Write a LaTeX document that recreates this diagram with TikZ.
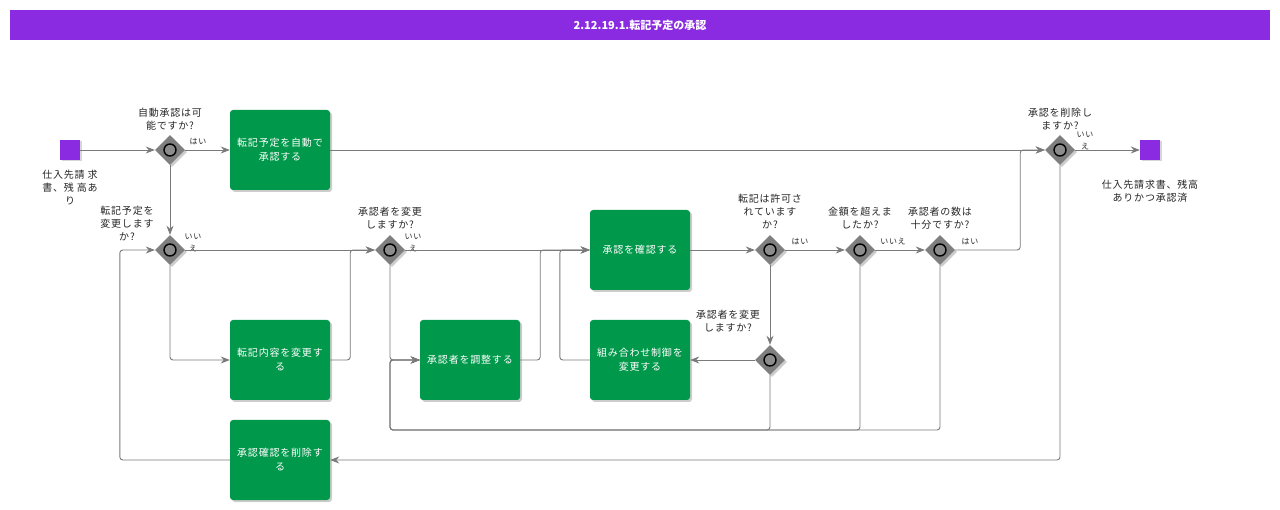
\documentclass[tikz,border=0pt]{standalone}
\usepackage{fontspec}
\setmainfont{Noto Sans CJK JP}[LetterSpace=8]
\newfontfamily\titlefont{Noto Sans CJK JP}
\usepackage{xcolor}
\usetikzlibrary{shapes.geometric,shadows,arrows.meta}
\definecolor{evpurple}{HTML}{8A2BE2}
\definecolor{taskgreen}{HTML}{00984A}
\definecolor{gategray}{HTML}{7F7F7F}
\definecolor{linegray}{HTML}{7A7A7A}
\tikzset{
  task/.style={fill=taskgreen, rounded corners=3pt, minimum width=100pt, minimum height=80pt,
    text=white, font=\fontsize{10}{14}\selectfont, align=center, inner sep=2pt,
    drop shadow={shadow xshift=2pt, shadow yshift=-2pt, fill=black!40, opacity=.5}},
  gate/.style={diamond, fill=gategray, minimum size=30pt, inner sep=0pt,
    drop shadow={shadow xshift=2pt, shadow yshift=-2pt, fill=black!40, opacity=.5},
    path picture={\draw[black, line width=1.4pt, fill=gray!90] (path picture bounding box.center) circle (6pt);}},
  event/.style={fill=evpurple, minimum size=20pt, inner sep=0pt,
    drop shadow={shadow xshift=1.5pt, shadow yshift=-1.5pt, fill=black!40, opacity=.4}},
  lbl/.style={font=\fontsize{10}{13}\selectfont, align=center, inner sep=0pt, text=black!85},
  ans/.style={font=\fontsize{8}{12}\selectfont, align=center, inner sep=0pt, text=black!85},
  flow/.style={draw=linegray, line width=0.9pt, rounded corners=3pt, -{Stealth[length=9pt,width=7pt]}}
}
\begin{document}
\begin{tikzpicture}[x=1pt, y=-1pt]
  \useasboundingbox (0,0) rectangle (1280,510);
  % title
  \node[fill=evpurple, minimum width=1260pt, minimum height=30pt, inner sep=0pt, text=white,
    font=\titlefont\fontsize{11}{13}\selectfont\bfseries] (title) at (640,25) {2.12.19.1.転記予定の承認};

  % start and end
  \node[event] (start) at (70,150) {};
  \node[lbl] (startlbl) at (70,188) {仕入先請 求\\書、残 高あ\\り};
  \node[event] (finish) at (1150,150) {};
  \node[lbl] (finishlbl) at (1150,191) {仕入先請求書、残高\\ありかつ承認済};

  % gateways
  \node[gate] (gauto) at (170,150) {};
  \node[lbl] (gautolbl) at (170,119) {自動承認は可\\能ですか?};
  \node[gate] (gchange) at (170,250) {};
  \node[lbl] (gchangelbl) at (127,223) {転記予定を\\変更します\\か?};
  \node[gate] (gappr) at (390,250) {};
  \node[lbl] (gapprlbl) at (390,218) {承認者を変更\\しますか?};
  \node[gate] (gperm) at (770,250) {};
  \node[lbl] (gpermlbl) at (770,211) {転記は許可さ\\れています\\か?};
  \node[gate] (gamount) at (860,250) {};
  \node[lbl] (gamountlbl) at (860,218) {金額を超えま\\したか?};
  \node[gate] (gcount) at (940,250) {};
  \node[lbl] (gcountlbl) at (940,218) {承認者の数は\\十分ですか?};
  \node[gate] (gdel) at (1060,150) {};
  \node[lbl] (gdellbl) at (1060,119) {承認を削除し\\ますか?};
  \node[gate] (gswap) at (770,360) {};
  \node[lbl] (gswaplbl) at (728,321) {承認者を変更\\しますか?};

  % answers
  \node[ans] (a1) at (198,142) {はい};
  \node[ans] (a2) at (193,243) {いい\\え};
  \node[ans] (a3) at (413,243) {いい\\え};
  \node[ans] (a4) at (800,242) {はい};
  \node[ans] (a5) at (893,242) {いいえ};
  \node[ans] (a6) at (970,242) {はい};
  \node[ans] (a7) at (1085,141) {いい\\え};

  % tasks
  \node[task] (autoappr) at (280,150) {転記予定を自動で\\承認する};
  \node[task] (editpost) at (280,360) {転記内容を変更す\\る};
  \node[task] (delconf) at (280,460) {承認確認を削除す\\る};
  \node[task] (adjappr) at (470,360) {承認者を調整する};
  \node[task] (confirm) at (640,250) {承認を確認する};
  \node[task] (combo) at (640,360) {組み合わせ制御を\\変更する};

  % connectors
  \draw[flow] (start) -- (gauto);
  \draw[flow] (gauto) -- (autoappr);
  \draw[flow] (autoappr) -- (gdel);
  \draw[flow] (gcount.east) -- ++(65,0) |- (gdel.west);
  \draw[flow] (gdel) -- (finish);
  \draw[flow] (gdel.south) |- (delconf.east);
  \draw[flow] (delconf.west) -- ++(-110,0) |- (gchange.west);
  \draw[flow] (gauto) -- (gchange);
  \draw[flow] (gchange) -- (gappr);
  \draw[flow] (gchange.south) |- (editpost.west);
  \draw[flow] (editpost.east) -- ++(20,0) |- (gappr.west);
  \draw[flow] (gappr) -- (confirm);
  \draw[flow] (gappr.south) |- (adjappr.west);
  \draw[flow] (adjappr.east) -- ++(20,0) |- (confirm.west);
  \draw[flow] (combo.west) -- ++(-30,0) |- (confirm.west);
  \draw[flow] (confirm) -- (gperm);
  \draw[flow] (gperm) -- (gamount);
  \draw[flow] (gamount) -- (gcount);
  \draw[flow] (gperm) -- (gswap);
  \draw[flow] (gswap) -- (combo);

  % loops back
  \coordinate (back) at (390,430);
  \draw[flow] (gswap.south) |- (back) |- (adjappr.west);
  \draw[flow] (gamount.south) |- (back) |- (adjappr.west);
  \draw[flow] (gcount.south) |- (back) |- (adjappr.west);
\end{tikzpicture}
\end{document}
